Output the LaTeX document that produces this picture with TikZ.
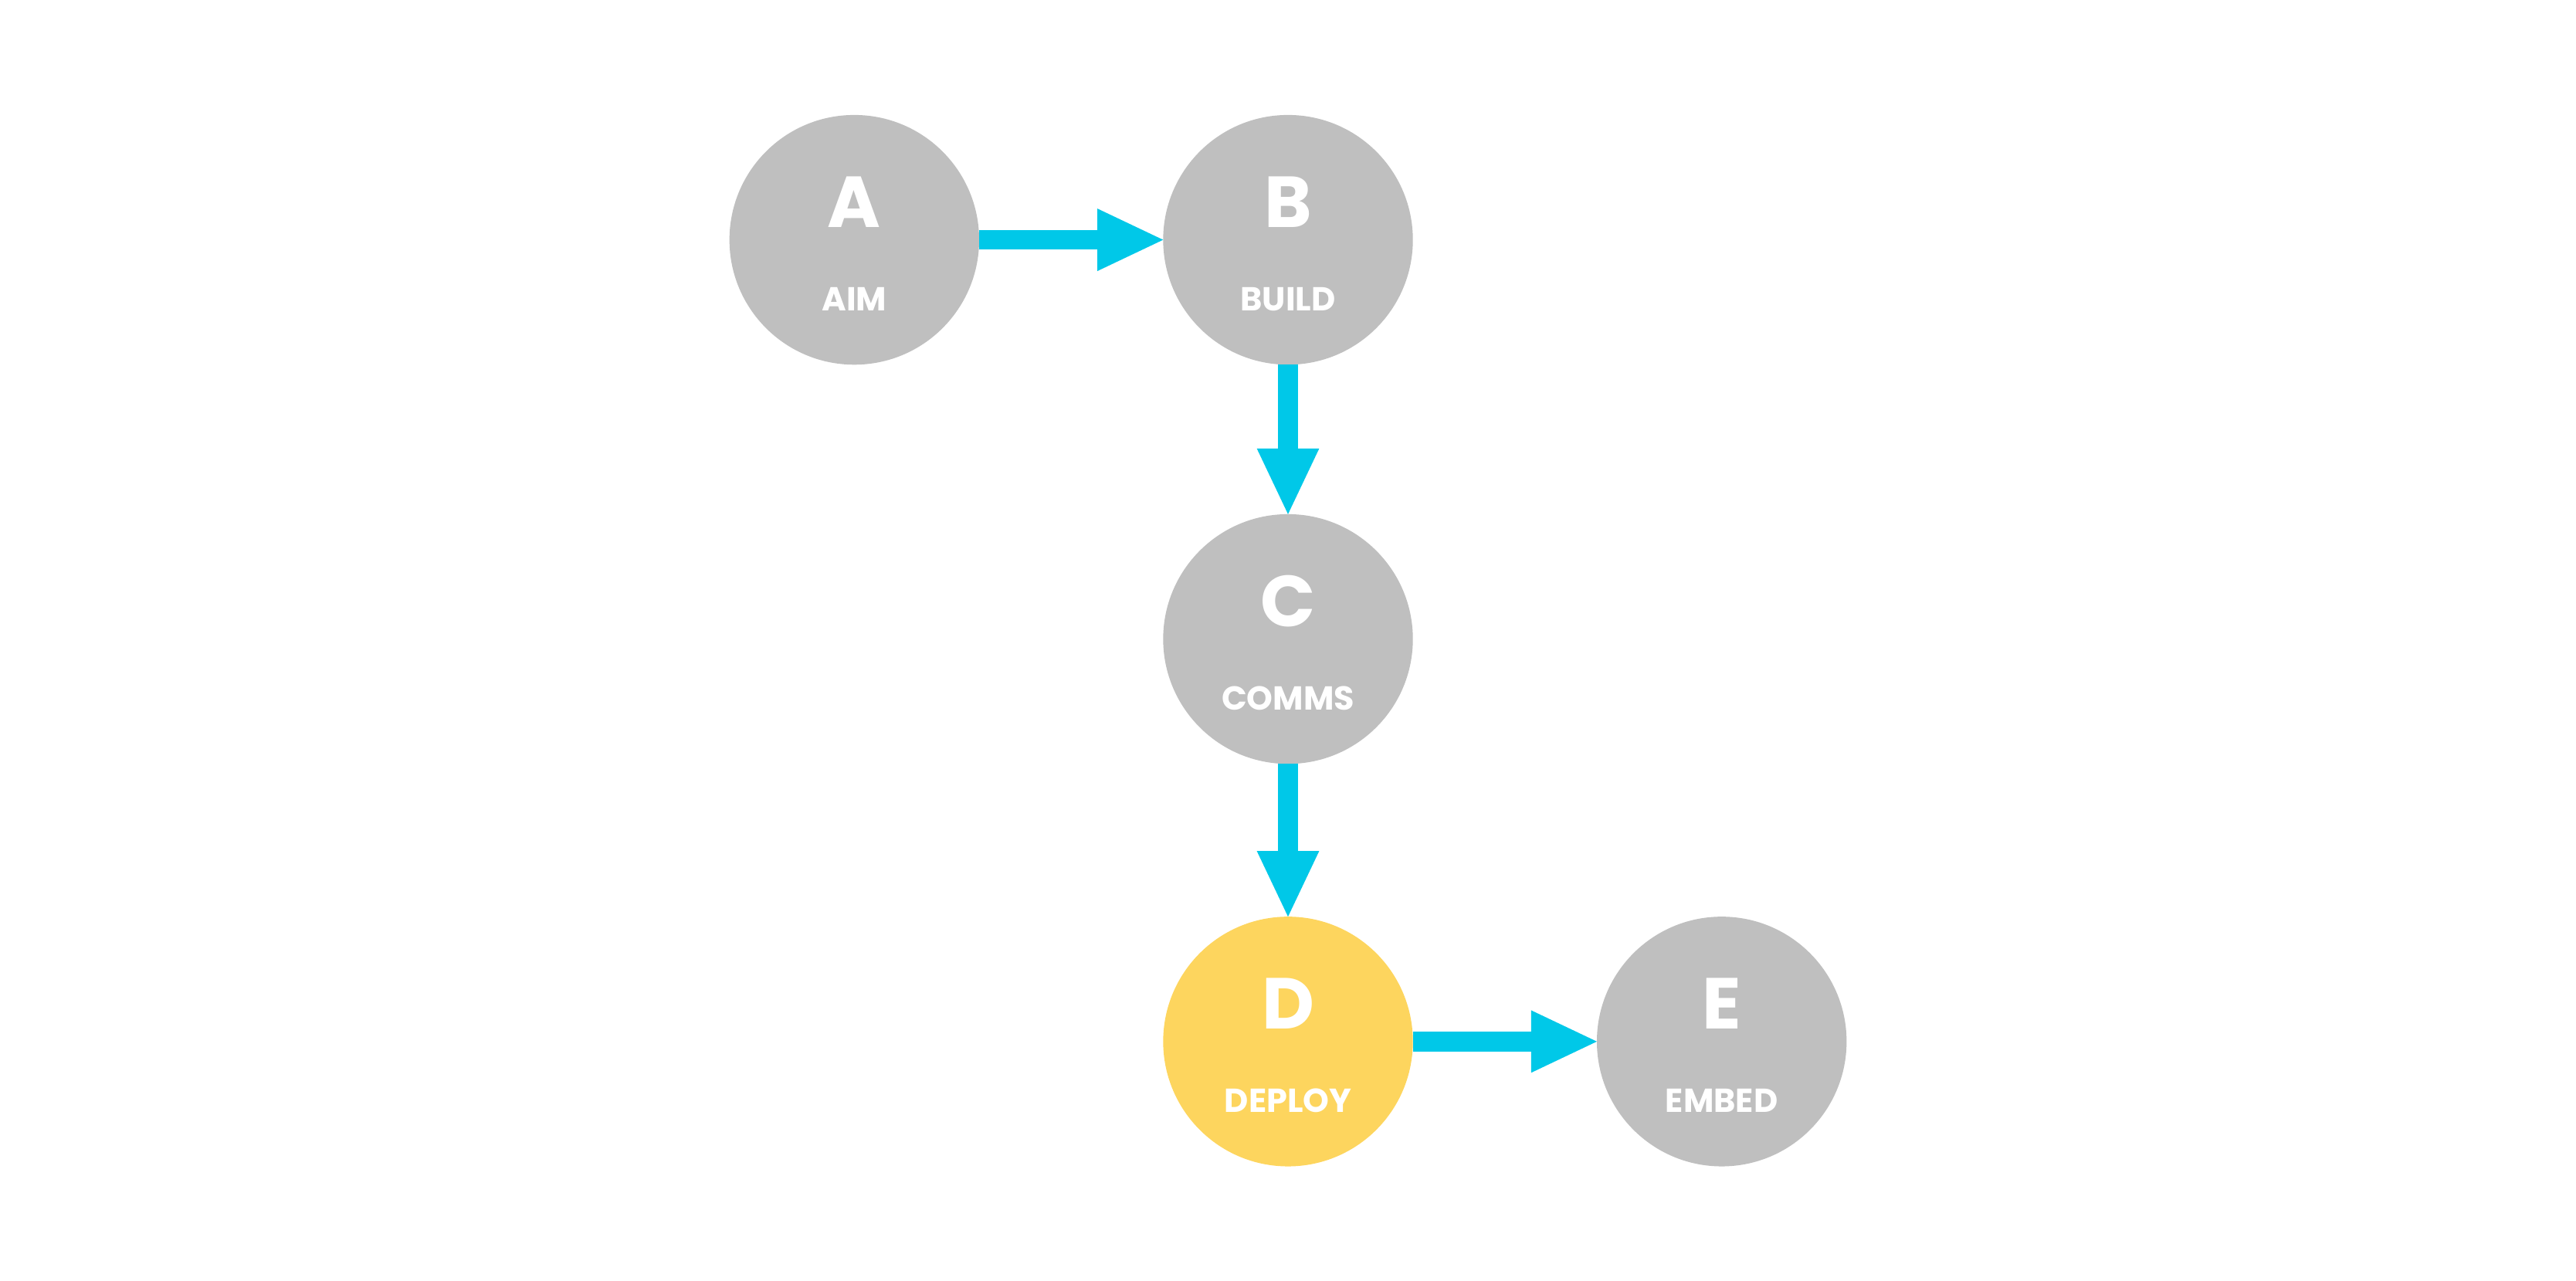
\documentclass[tikz,border=0pt]{standalone}
\usepackage{fontspec}
\setmainfont{Poppins}
\usetikzlibrary{arrows.meta}
\definecolor{stagegray}{RGB}{191,191,191}
\definecolor{stageyellow}{RGB}{253,213,94}
\definecolor{flowcyan}{RGB}{0,200,232}
\tikzset{>={Triangle[length=0.8cm,width=0.76cm,line width=0pt]}}
\tikzset{stage/.style={circle,fill=stagegray,minimum size=3.04cm,inner sep=0pt,outer sep=0pt},
	letter/.style={text=white,font=\bfseries\fontsize{25}{25}\selectfont},
	word/.style={text=white,font=\bfseries\fontsize{11.5}{12}\selectfont},
	flow/.style={->,draw=flowcyan,fill=flowcyan,line width=0.24cm}}

\begin{document}
\begin{tikzpicture}
				\useasboundingbox (0,0) rectangle (31.36,15.594);
				\draw (10.40,12.674) node (a) [stage] {};
				\draw ([yshift=0.46cm]a.center) node (aL) [letter] {A};
				\draw ([yshift=-0.72cm]a.center) node (aW) [word] {AIM};

				\draw (15.68,12.674) node (b) [stage] {};
				\draw ([yshift=0.46cm]b.center) node (bL) [letter] {B};
				\draw ([yshift=-0.72cm]b.center) node (bW) [word] {BUILD};

				\draw (15.68,7.814) node (c) [stage] {};
				\draw ([yshift=0.46cm]c.center) node (cL) [letter] {C};
				\draw ([yshift=-0.72cm]c.center) node (cW) [word] {COMMS};

				\draw (15.68,2.914) node (d) [stage,fill=stageyellow] {};
				\draw ([yshift=0.46cm]d.center) node (dL) [letter] {D};
				\draw ([yshift=-0.72cm]d.center) node (dW) [word] {DEPLOY};

				\draw (20.96,2.914) node (e) [stage] {};
				\draw ([yshift=0.46cm]e.center) node (eL) [letter] {E};
				\draw ([yshift=-0.72cm]e.center) node (eW) [word] {EMBED};

				\draw [flow] (a) -- (b);
				\draw [flow] (b) -- (c);
				\draw [flow] (c) -- (d);
				\draw [flow] (d) -- (e);
			\end{tikzpicture}
\end{document}
